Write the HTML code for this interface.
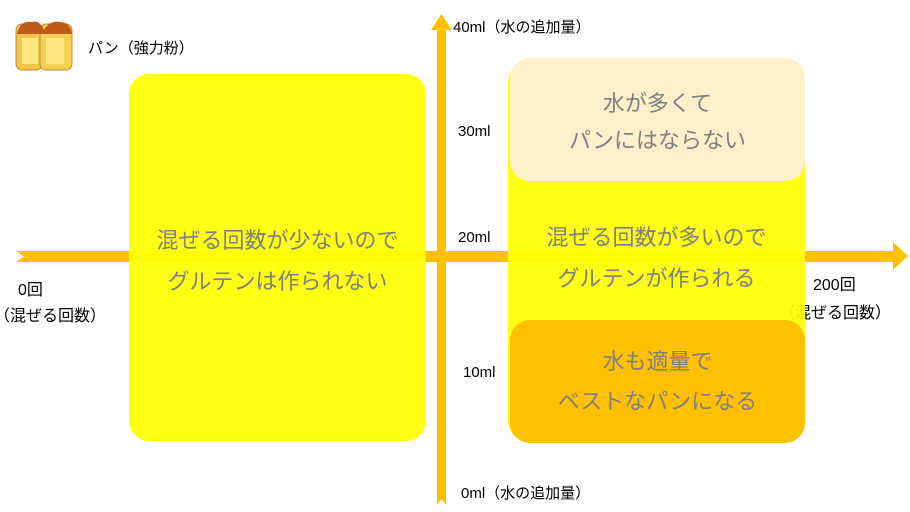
<!DOCTYPE html>
<html><head><meta charset="utf-8"><style>
body{margin:0;width:910px;height:512px;background:#fff;position:relative;overflow:hidden;font-family:"Liberation Sans","Noto Sans CJK JP",sans-serif}
.a{position:absolute}
.t{position:absolute;font-size:15px;color:#000;white-space:nowrap}
.box{position:absolute;border-radius:20px;color:#7f7f7f;font-size:22px;text-align:center}
</style></head><body>
<svg class="a" style="left:0;top:0" width="910" height="512">
<polygon points="16,251 893,251 893,242 908,256 893,270 893,262 16,262 24,256.5" fill="#ffc000"/>
<polygon points="437,505 437,30 431,30 441.5,14 452,30 446,30 446,505 441.5,499" fill="#ffc000"/>
<g>
<rect x="16" y="24" width="26" height="46" rx="6" fill="#f5c64a" stroke="#b88a3a"/>
<rect x="40" y="24" width="32" height="46" rx="6" fill="#f7cf52" stroke="#b88a3a"/>
<path d="M17 34 Q20 20 32 22 Q40 20 44 30 Q50 20 60 22 Q70 22 72 34 Z" fill="#c25a1a"/>
<rect x="22" y="38" width="16" height="26" fill="#ffe680"/>
<rect x="46" y="38" width="18" height="26" fill="#ffe680"/>
</g>
</svg>
<div class="t" style="left:88px;top:37px">パン（強力粉）</div>
<div class="t" style="left:18px;top:276px;font-size:16px">0回</div>
<div class="t" style="left:-6px;top:302px;font-size:16px">（混ぜる回数）</div>
<div class="t" style="left:453px;top:16px">40ml（水の追加量）</div>
<div class="t" style="left:458px;top:123px">30ml</div>
<div class="t" style="left:458px;top:229px">20ml</div>
<div class="t" style="left:463px;top:364px">10ml</div>
<div class="t" style="left:461px;top:482px">0ml（水の追加量）</div>
<div class="t" style="left:813px;top:271px;font-size:16px">200回</div>
<div class="t" style="left:779px;top:299px;font-size:16px;color:#000">（混ぜる回数）</div>
<div class="box" style="left:129px;top:74px;width:297px;height:367px;background:rgba(255,255,0,0.93)">
<div style="position:absolute;left:0;right:0;top:146px;line-height:41px">混ぜる回数が少ないので<br>グルテンは作られない</div></div>
<div class="box" style="left:508px;top:62px;width:297px;height:379px;background:rgba(255,255,0,0.93)">
<div style="position:absolute;left:0;right:0;top:155px;line-height:41px">混ぜる回数が多いので<br>グルテンが作られる</div></div>
<div class="box" style="left:510px;top:58px;width:295px;height:123px;background:#fff0cc">
<div style="position:absolute;left:0;right:0;top:27px;line-height:37px">水が多くて<br>パンにはならない</div></div>
<div class="box" style="left:510px;top:320px;width:295px;height:123px;background:#ffc000">
<div style="position:absolute;left:0;right:0;top:22px;line-height:40px">水も適量で<br>ベストなパンになる</div></div>
</body></html>
